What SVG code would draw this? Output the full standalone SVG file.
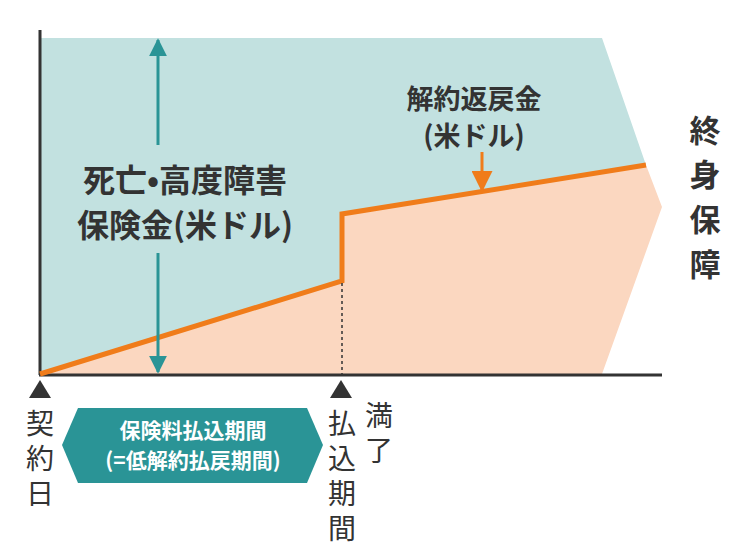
<svg xmlns="http://www.w3.org/2000/svg" width="750" height="560" viewBox="0 0 750 560">
<style>
text{font-family:"Noto Sans CJK JP","Noto Sans",sans-serif;fill:#333;text-anchor:middle}
.b{font-weight:bold}
.v{font-size:28px}
.w{fill:#fff;font-weight:bold;font-size:21px}
</style>
<defs>
<marker id="ta" viewBox="0 0 10 10" refX="9" refY="5" markerWidth="6" markerHeight="6" orient="auto"><path d="M0,0L10,5L0,10z" fill="#2a9496"/></marker>
<marker id="oa" viewBox="0 0 10 10" refX="9" refY="5" markerWidth="7" markerHeight="7" orient="auto"><path d="M0,0L10,5L0,10z" fill="#f07c1a"/></marker>
</defs>
<g id="areas">
<polygon points="40,38 602,38 646,165 342,214 342,281 40,374" fill="#c2e1e0"/>
<polygon points="40,374 342,281 342,214 646,165 662,207 602,374" fill="#fbd7c0"/>
</g>
<g id="axes" stroke="#333" stroke-width="3" fill="none">
<line x1="40" y1="30" x2="40" y2="375"/>
<line x1="39" y1="375" x2="662" y2="375"/>
</g>
<g id="connectors">
<path d="M40,374L342,281L342,214L646,165" fill="none" stroke="#f07c1a" stroke-width="5"/>
<line x1="342" y1="283" x2="342" y2="374" stroke="#333" stroke-width="1.5" stroke-dasharray="3,3"/>
<line x1="158" y1="145" x2="158" y2="40" stroke="#2a9496" stroke-width="3" marker-end="url(#ta)"/>
<line x1="158" y1="253" x2="158" y2="372" stroke="#2a9496" stroke-width="3" marker-end="url(#ta)"/>
<line x1="482" y1="152" x2="482" y2="190" stroke="#f07c1a" stroke-width="3" marker-end="url(#oa)"/>
</g>
<g id="death"><text class="b" font-size="32" x="185" y="192">死亡•高度障害</text><text class="b" font-size="32" x="185" y="237">保険金(米ドル)</text></g>
<g id="surrender"><text class="b" font-size="27" x="474" y="109">解約返戻金</text><text class="b" font-size="27" x="474" y="146">(米ドル)</text></g>
<g id="lifetime"><text class="b" font-size="31"><tspan x="705" y="142">終</tspan><tspan x="705" y="186">身</tspan><tspan x="705" y="231">保</tspan><tspan x="705" y="276">障</tspan></text></g>
<g id="start"><polygon points="40,380 29,398 51,398" fill="#333"/>
<text class="v"><tspan x="40" y="434">契</tspan><tspan x="40" y="469">約</tspan><tspan x="40" y="504">日</tspan></text></g>
<g id="end"><polygon points="341,380 330,398 352,398" fill="#333"/>
<text class="v"><tspan x="342" y="434">払</tspan><tspan x="342" y="469">込</tspan><tspan x="342" y="504">期</tspan><tspan x="342" y="539">間</tspan></text>
<text class="v"><tspan x="379" y="426">満</tspan><tspan x="379" y="461">了</tspan></text></g>
<g id="period"><polygon points="62,445 78,408 307,408 323,445 307,483 78,483" fill="#2a9496"/>
<text class="w" x="193" y="438">保険料払込期間</text><text class="w" x="193" y="468">(=低解約払戻期間)</text></g>
</svg>
